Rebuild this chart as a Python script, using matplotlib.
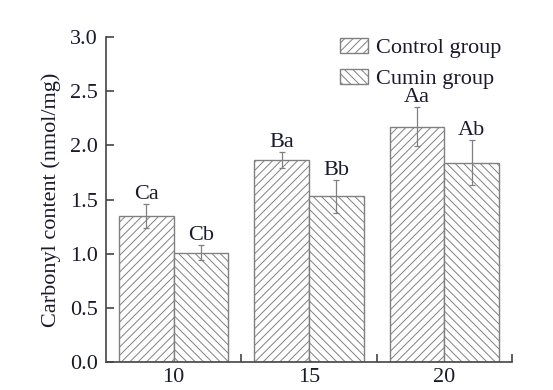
import numpy as np
import matplotlib
matplotlib.use('Agg')
import matplotlib.pyplot as plt

plt.rcParams['font.family'] = 'Liberation Serif'
plt.rcParams['hatch.color'] = '#9a9a9a'
plt.rcParams['hatch.linewidth'] = 0.7

# dados
dias = ['10', '15', '20']
controle = [1.35, 1.865, 2.17]
controle_err = [0.11, 0.07, 0.18]
cominho = [1.01, 1.53, 1.84]
cominho_err = [0.07, 0.15, 0.21]
letras_controle = ['Ca', 'Ba', 'Aa']
letras_cominho = ['Cb', 'Bb', 'Ab']

fs = 16
cor_txt = '#1a1a2e'

fig = plt.figure(figsize=(5.53, 3.90), dpi=100)
ax = fig.add_axes([0.1917, 0.0718, 0.7342, 0.8333])

x = np.arange(len(dias))
w = 0.405
ax.bar(x - w / 2, controle, w, color='white', edgecolor='#808080', linewidth=1.0,
       hatch='////', label='Control group')
ax.bar(x + w / 2, cominho, w, color='white', edgecolor='#808080', linewidth=1.0,
       hatch='\\\\\\\\', label='Cumin group')
ax.errorbar(x - w / 2, controle, yerr=controle_err, fmt='none', ecolor='#808080',
            elinewidth=0.9, capsize=2.5, capthick=0.9)
ax.errorbar(x + w / 2, cominho, yerr=cominho_err, fmt='none', ecolor='#808080',
            elinewidth=0.9, capsize=2.5, capthick=0.9)

for i in range(len(dias)):
    ax.text(x[i] - w / 2, controle[i] + controle_err[i] + 0.0, letras_controle[i],
            ha='center', va='bottom', fontsize=fs, color=cor_txt)
    ax.text(x[i] + w / 2, cominho[i] + cominho_err[i] + 0.0, letras_cominho[i],
            ha='center', va='bottom', fontsize=fs, color=cor_txt)

ax.set_xlim(-0.5, 2.5)
ax.set_ylim(0, 3.0)
ax.set_yticks([0, 0.5, 1.0, 1.5, 2.0, 2.5, 3.0])
ax.set_yticklabels(['0.0', '0.5', '1.0', '1.5', '2.0', '2.5', '3.0'])
ax.set_xticks(x)
ax.set_xticklabels(dias)
ax.set_xticks([0.5, 1.5, 2.5], minor=True)
ax.tick_params(axis='x', which='major', length=0, pad=4, labelsize=fs, labelcolor=cor_txt)
ax.tick_params(axis='x', which='minor', direction='in', length=6, width=1.2, color='#444444')
ax.tick_params(axis='y', direction='in', length=6, width=1.2, color='#444444',
               labelsize=fs, labelcolor=cor_txt, pad=6)
ax.set_ylabel('Carbonyl content (nmol/mg)', fontsize=fs, color=cor_txt, labelpad=6)

for s in ['top', 'right']:
    ax.spines[s].set_visible(False)
for s in ['left', 'bottom']:
    ax.spines[s].set_color('#444444')
    ax.spines[s].set_linewidth(1.2)

ax.legend(loc='upper left', bbox_to_anchor=(0.576, 0.997), frameon=False, fontsize=fs,
          borderpad=0, borderaxespad=0,
          handlelength=1.26, handleheight=0.63, handletextpad=0.36, labelspacing=0.5,
          labelcolor=cor_txt)

fig.savefig('out.png', dpi=100)
